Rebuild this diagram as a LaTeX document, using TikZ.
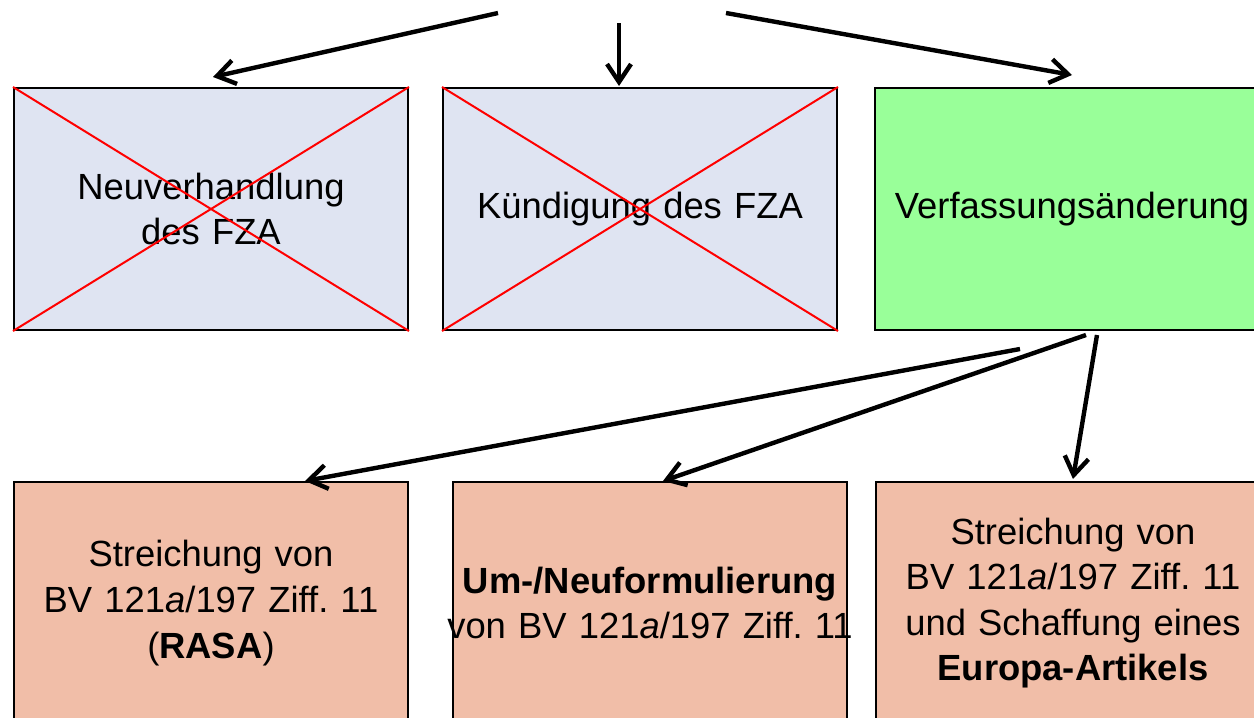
\documentclass[tikz,border=0pt]{standalone}
\usepackage{fontspec}
\setmainfont{Liberation Sans}
\usetikzlibrary{positioning,arrows.meta}
\definecolor{droppedblue}{RGB}{223,228,242}
\definecolor{chosengreen}{RGB}{153,255,153}
\definecolor{variantsalmon}{RGB}{241,190,168}
\begin{document}
\begin{tikzpicture}[
    x=0.5pt, y=-0.5pt,
    box/.style={rectangle, draw, line width=1pt, minimum width=197pt, minimum height=121pt, text width=185pt, align=center, inner sep=0pt, font=\fontsize{18.2}{22.8}\selectfont},
    dropped/.style={box, fill=droppedblue},
    chosen/.style={box, fill=chosengreen},
    variant/.style={box, fill=variantsalmon},
    arrow/.style={-{Straight Barb[length=9pt,width=12pt]}, line width=2.2pt},
    strike/.style={red, line width=1pt}
]
\clip (0,0) rectangle (1254,718);

% Options
\node[dropped] (neu) at (211,209) {Neuverhandlung\\des FZA};
\node[dropped, right=16.5pt of neu] (kuend) {Kündigung des FZA};
\node[chosen, right=18pt of kuend] (verf) {Verfassungsänderung};

% Crossed out
\draw[strike] (neu.north west) -- (neu.south east) (neu.south west) -- (neu.north east);
\draw[strike] (kuend.north west) -- (kuend.south east) (kuend.south west) -- (kuend.north east);

% Variants
\node[variant, below=75pt of neu] (rasa) {Streichung von\\BV 121\textit{a}/197 Ziff.~11\\(\textbf{RASA})};
\node[variant, right=21.5pt of rasa] (neuf) {\makebox[185pt]{\textbf{Um-/Neuformulierung}}\\\makebox[185pt]{von BV 121\textit{a}/197 Ziff.~11}};
\node[variant, right=13.5pt of neuf] (europa) {Streichung von\\BV 121\textit{a}/197 Ziff.~11\\und Schaffung eines\\\textbf{Europa-Artikels}};

% Arrows from the top
\coordinate (s1) at (498,13);
\coordinate (s2) at (619,23);
\coordinate (s3) at (726,13);
\draw[arrow] (s1) -- ([shift={(2,-10)}]neu.north);
\draw[arrow] (s2) -- ([shift={(-21,-1)}]kuend.north);
\draw[arrow] (s3) -- ([shift={(0,-12)}]verf.north);

% Arrows to the variants
\draw[arrow] ([shift={(-52,18)}]verf.south) -- ([shift={(94,0)}]rasa.north);
\draw[arrow] ([shift={(14,4)}]verf.south) -- ([shift={(13,0)}]neuf.north);
\draw[arrow] ([shift={(25,4)}]verf.south) -- ([shift={(0,-2)}]europa.north);

\end{tikzpicture}
\end{document}
